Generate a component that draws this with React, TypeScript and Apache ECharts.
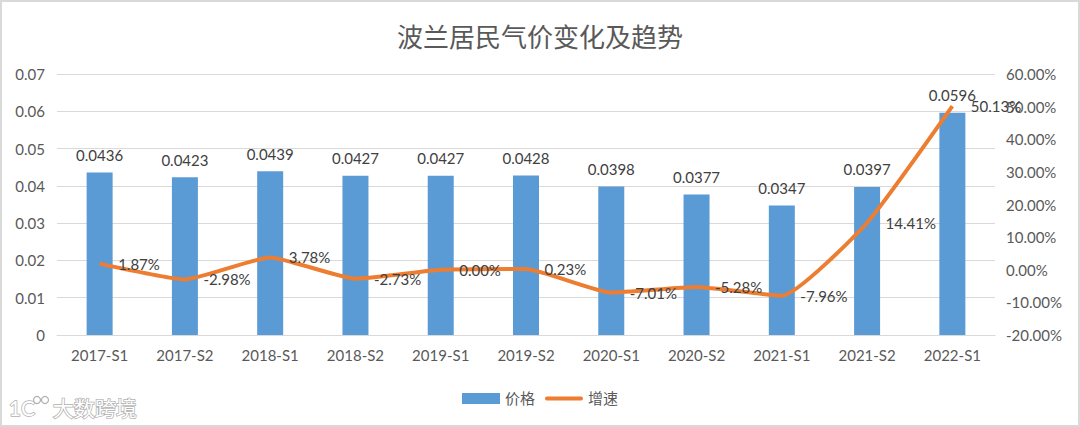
import React, { useEffect, useRef } from "react";
import * as echarts from "echarts";

const categories = ["2017-S1", "2017-S2", "2018-S1", "2018-S2", "2019-S1", "2019-S2", "2020-S1", "2020-S2", "2021-S1", "2021-S2", "2022-S1"];
const prices = [0.0436, 0.0423, 0.0439, 0.0427, 0.0427, 0.0428, 0.0398, 0.0377, 0.0347, 0.0397, 0.0596];
const growth = [1.87, -2.98, 3.78, -2.73, 0.0, 0.23, -7.01, -5.28, -7.96, 14.41, 50.13];
const leftTicks = { min: 0, max: 0.07, interval: 0.01 };
const rightTicks = { min: -20, max: 60, interval: 10 };

const FONT = 'Lato, "Noto Sans CJK SC", sans-serif';
const GRAY = "#595959";

export default function App() {
  const ref = useRef<HTMLDivElement>(null);
  useEffect(() => {
    if (!ref.current) return;
    const chart = echarts.init(ref.current, undefined, { renderer: "svg" });
    chart.setOption({
      animation: false,
      backgroundColor: "#ffffff",
      title: {
        text: "波兰居民气价变化及趋势",
        left: "center",
        top: 19,
        textStyle: { fontFamily: FONT, fontSize: 26, fontWeight: "normal", color: GRAY },
      },
      grid: { left: 57, right: 85, top: 74, bottom: 92 },
      legend: {
        bottom: 16,
        left: "center",
        itemWidth: 38,
        itemHeight: 11,
        itemGap: 10,
        textStyle: { fontFamily: FONT, fontSize: 15, color: GRAY },
        data: [
          { name: "价格", icon: "rect" },
          {
            name: "增速",
            icon: "path://M2,0 H38 A2,2 0 0 1 38,4 H2 A2,2 0 0 1 2,0 Z",
            itemStyle: { color: "#ED7D31", opacity: 1 },
          },
        ],
      },
      xAxis: {
        type: "category",
        data: categories,
        axisLine: { lineStyle: { color: "#d9d9d9" } },
        axisTick: { show: false },
        axisLabel: { fontFamily: FONT, fontSize: 15, color: GRAY, margin: 12 },
      },
      yAxis: [
        {
          type: "value",
          ...leftTicks,
          axisLine: { show: false },
          axisTick: { show: false },
          splitLine: { lineStyle: { color: "#d9d9d9" } },
          axisLabel: { fontFamily: FONT, fontSize: 15, color: GRAY, margin: 12, formatter: (v: number) => (v === 0 ? "0" : v.toFixed(2)) },
        },
        {
          type: "value",
          ...rightTicks,
          axisLine: { show: false },
          axisTick: { show: false },
          splitLine: { show: false },
          axisLabel: { fontFamily: FONT, fontSize: 15, color: GRAY, margin: 11, formatter: (v: number) => v.toFixed(2) + "%" },
        },
      ],
      series: [
        {
          name: "价格",
          type: "bar",
          data: prices,
          barWidth: 26,
          itemStyle: { color: "#5B9BD5" },
          label: {
            show: true,
            position: "top",
            distance: 10,
            fontFamily: FONT,
            fontSize: 15,
            color: "#404040",
            formatter: (p: any) => p.value.toFixed(4),
          },
        },
        {
          name: "增速",
          type: "line",
          yAxisIndex: 1,
          data: growth,
          smooth: 0.15,
          symbol: "circle",
          symbolSize: 1,
          showSymbol: true,
          lineStyle: { color: "#ED7D31", width: 4 },
          itemStyle: { color: "#ED7D31", opacity: 0 },
          labelLayout: { hideOverlap: false },
          label: {
            show: true,
            position: "right",
            distance: 18,
            fontFamily: FONT,
            fontSize: 15,
            color: "#404040",
            opacity: 1,
            formatter: (p: any) => p.value.toFixed(2) + "%",
          },
          z: 3,
        },
      ],
      graphic: [
        {
          type: "rect",
          shape: { x: 1, y: 1, width: 1078, height: 425 },
          style: { fill: "none", stroke: "#d9d9d9", lineWidth: 2 },
          silent: true,
        },
        {
          type: "text",
          left: 8,
          top: 396,
          style: {
            text: "1C",
            fontSize: 21,
            fontFamily: FONT,
            fill: "#ffffff",
            stroke: "#b0b0b0",
            lineWidth: 1.5,
          },
        },
        {
          type: "circle",
          shape: { cx: 37, cy: 400, r: 3.5 },
          style: { fill: "#ffffff", stroke: "#b0b0b0", lineWidth: 1.2 },
        },
        {
          type: "circle",
          shape: { cx: 45, cy: 400, r: 3.5 },
          style: { fill: "#ffffff", stroke: "#b0b0b0", lineWidth: 1.2 },
        },
        {
          type: "text",
          left: 52,
          top: 396,
          style: {
            text: "大数跨境",
            fontSize: 21,
            fontFamily: FONT,
            fill: "#ffffff",
            stroke: "#b0b0b0",
            lineWidth: 1.5,
          },
        },
      ],
    });
    return () => chart.dispose();
  }, []);
  return <div ref={ref} style={{ position: "absolute", left: 0, top: 0, width: 1080, height: 427 }} />;
}
